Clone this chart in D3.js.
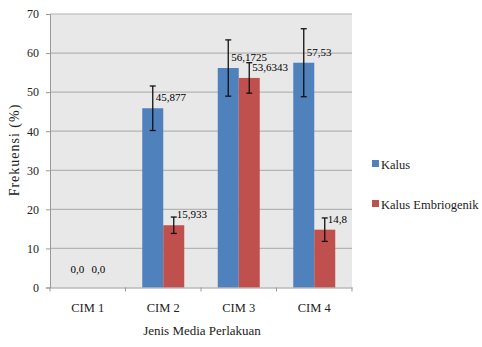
<!DOCTYPE html>
<html><head><meta charset="utf-8">
<script src="https://cdn.jsdelivr.net/npm/d3@7"></script>
<style>body{margin:0;background:#fff}</style>
</head><body>
<svg id="c" width="482" height="347" style="font-family:'Liberation Serif','Times New Roman','DejaVu Serif',serif"></svg>
<script>
const categories = ["CIM 1","CIM 2","CIM 3","CIM 4"];
const seriesNames = ["Kalus","Kalus Embriogenik"];
const kalus = [0, 45.877, 56.1725, 57.53];
const embrio = [0, 15.933, 53.6343, 14.8];
const kalusErr = [0, 5.7, 7.2, 8.7];
const embrioErr = [0, 2.1, 3.9, 3.0];
const kalusLabels = ["0,0","45,877","56,1725","57,53"];
const embrioLabels = ["0,0","15,933","53,6343","14,8"];
const yTicks = [0,10,20,30,40,50,60,70];
const colors = ["#4f81bd","#c0504d"];
const FONT = "'Liberation Serif','Times New Roman','DejaVu Serif',serif";

const svg = d3.select("#c");
const L=50, R=352, T=14, B=287.5;
const x = d3.scaleBand().domain(categories).range([L,R]);
const xs = d3.scaleBand().domain(seriesNames).range([0,42]);
const y = d3.scaleLinear().domain([0,70]).range([B,T]);

svg.append("rect").attr("x",L).attr("y",T).attr("width",R-L).attr("height",B-T).attr("fill","#e8e8e8");
svg.append("g").selectAll("line").data(yTicks.slice(1)).join("line")
  .attr("x1",L).attr("x2",R).attr("y1",d=>y(d)).attr("y2",d=>y(d))
  .attr("stroke","#b4b4b4").attr("stroke-width",1.2);

const series = [kalus, embrio], errs=[kalusErr, embrioErr], labs=[kalusLabels, embrioLabels];
const offset = (x.bandwidth()-42)/2;
series.forEach((vals,si)=>{
  const g = svg.append("g");
  categories.forEach((c,i)=>{
    const bx = x(c)+offset+xs(seriesNames[si]);
    const bw = xs.bandwidth();
    if(vals[i]>0){
      g.append("rect").attr("x",bx).attr("y",y(vals[i])).attr("width",bw).attr("height",y(0)-y(vals[i])).attr("fill",colors[si]);
      const cx = bx+bw/2, e=errs[si][i];
      g.append("line").attr("x1",cx).attr("x2",cx).attr("y1",y(vals[i]+e)).attr("y2",y(vals[i]-e)).attr("stroke","#111").attr("stroke-width",1.3);
      [vals[i]+e, vals[i]-e].forEach(v=>g.append("line").attr("x1",cx-3).attr("x2",cx+3).attr("y1",y(v)).attr("y2",y(v)).attr("stroke","#111").attr("stroke-width",1.3));
      g.append("text").attr("x",cx+3).attr("y",y(vals[i])-7).attr("font-size",11).style("font-family",FONT).text(labs[si][i]);
    } else {
      g.append("text").attr("x",bx+bw/2).attr("y",y(0)-15).attr("text-anchor","middle").attr("font-size",11).style("font-family",FONT).text(labs[si][i]);
    }
  });
});

// axes
const ya = svg.append("g").attr("transform",`translate(${L},0)`)
  .call(d3.axisLeft(y).tickValues(yTicks).tickSize(4).tickPadding(7));
ya.attr("font-family",null);
ya.select(".domain").attr("stroke","#999");
ya.selectAll(".tick line").attr("stroke","#999");
ya.selectAll("text").attr("font-size",12).attr("fill","#222").style("font-family",FONT);
const xa = svg.append("g").attr("transform",`translate(0,${B})`)
  .call(d3.axisBottom(x).tickSize(0).tickPadding(16));
xa.attr("font-family",null);
xa.select(".domain").attr("stroke","#999");
xa.selectAll("text").attr("font-size",12.5).attr("fill","#222").style("font-family",FONT);
svg.append("g").selectAll("line").data(categories.concat(["end"])).join("line")
  .attr("x1",(d,i)=>L+i*x.bandwidth()).attr("x2",(d,i)=>L+i*x.bandwidth())
  .attr("y1",B).attr("y2",B+4).attr("stroke","#999");

svg.append("text").attr("x",202).attr("y",335).attr("text-anchor","middle").attr("font-size",13).style("font-family",FONT).attr("fill","#222").text("Jenis Media Perlakuan");
svg.append("text").attr("transform","translate(19,150) rotate(-90)").attr("text-anchor","middle").attr("font-size",14)
  .attr("letter-spacing",1).style("font-family",FONT).attr("fill","#222").text("Frekuensi (%)");

// legend
seriesNames.forEach((n,i)=>{
  const ly = 164 + i*40;
  svg.append("rect").attr("x",372).attr("y",ly-4).attr("width",7).attr("height",7).attr("fill",colors[i]);
  svg.append("text").attr("x",381).attr("y",ly+4.5).attr("font-size",12.5).style("font-family",FONT).attr("fill","#222").text(n);
});
</script>
</body></html>
